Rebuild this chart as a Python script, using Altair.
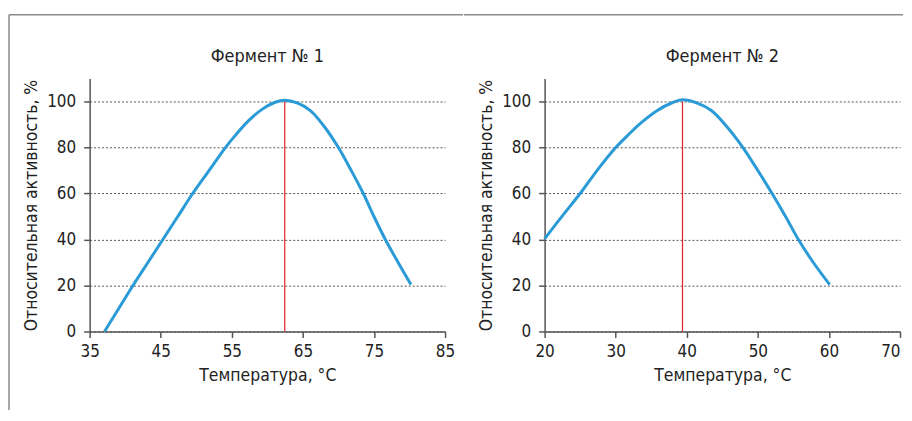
import altair as alt
import pandas as pd

# Enzyme 1 (temperature, relative activity %)
t1 = [37.1, 39.1, 41.1, 43.2, 45.3, 47.4, 49.5, 51.8, 54.1, 55.5, 57.4, 59.2, 61.1, 62.45, 64.2, 66.05, 67.9,
      70.0, 71.8, 73.5, 75.0, 76.6, 78.4, 80.2]
a1 = [0, 10, 20, 30, 40, 50, 60, 70, 80, 85.3, 91.8, 96.5, 99.7, 100.6, 99.4, 96.1, 89.6,
      80, 70, 60, 50, 40, 30, 20.4]
peak1 = 62.45
# Enzyme 2
t2 = [20, 22.5, 25.0, 27.5, 30.0, 31.6, 33.6, 35.8, 38.0, 39.4, 41.4, 43.45, 45.5, 47.9, 50.0, 52.0, 53.9,
      55.7, 57.8, 60.1]
a2 = [40.3, 50.3, 60, 70.5, 80, 85, 90.8, 96, 99.6, 100.8, 99.4, 96.1, 89.6, 80, 70, 60, 50,
      40, 30, 20.4]
peak2 = 39.4

titles = ["Фермент № 1", "Фермент № 2"]
x_domains = [[35, 85], [20, 70]]
y_ticks = [0, 20, 40, 60, 80, 100]

FONT = "DejaVu Sans Condensed"
W, H = 357, 254
FRAME = "#8c8c8c"
TXT = "#222222"


def panel(t, a, peak, title, xdom, first):
    df = pd.DataFrame({"t": t, "a": a})
    xs = alt.Scale(domain=xdom, nice=False, zero=False)
    ys = alt.Scale(domain=[0, 110], nice=False)
    xax_kw = dict(values=list(range(xdom[0], xdom[1] + 1, 10)), title="Температура, °C", grid=False,
                  labelPadding=6, titlePadding=7, labelFlush=False)
    if not first:
        xax_kw["labelAlign"] = alt.expr(f"datum.value == {xdom[1]} ? 'right' : 'center'")
    xax = alt.Axis(**xax_kw)
    yax = alt.Axis(values=y_ticks, title="Относительная активность, %", grid=True, labelPadding=8,
                   titlePadding=6)
    line = alt.Chart(df).mark_line(color="#2a9bd6", strokeWidth=3, interpolate="catmull-rom").encode(
        x=alt.X("t:Q", scale=xs, axis=xax),
        y=alt.Y("a:Q", scale=ys, axis=yax),
    )
    red = alt.Chart(pd.DataFrame({"t": [peak], "y0": [0], "y1": [100]})).mark_rule(
        color="#e8202a", strokeWidth=1.2).encode(
        x=alt.X("t:Q", scale=xs), y=alt.Y("y0:Q", scale=ys), y2="y1:Q")
    one = pd.DataFrame({"k": [0]})
    head = alt.Chart(one).mark_text(text=title, font=FONT, fontSize=18, color=TXT,
                                    baseline="alphabetic", align="center").encode(
        x=alt.value(W / 2), y=alt.value(-17))
    if first:
        top = alt.Chart(one).mark_rule(color=FRAME, strokeWidth=1.5).encode(
            x=alt.value(-81), x2=alt.value(375), y=alt.value(-64))
        left = alt.Chart(one).mark_rule(color=FRAME, strokeWidth=1.5).encode(
            x=alt.value(-81), y=alt.value(-64), y2=alt.value(333))
        layers = [top, left, head, line, red]
    else:
        top = alt.Chart(one).mark_rule(color=FRAME, strokeWidth=1.5).encode(
            x=alt.value(-81), x2=alt.value(360), y=alt.value(-64))
        layers = [top, head, line, red]
    return alt.layer(*layers).properties(width=W, height=H)


chart = alt.hconcat(
    panel(t1, a1, peak1, titles[0], x_domains[0], True),
    panel(t2, a2, peak2, titles[1], x_domains[1], False),
    spacing=-1,
).properties(padding={"left": 0, "top": 5, "right": 0, "bottom": 0}).configure_view(
    stroke=None
).configure_axis(
    domainColor="#555", domainWidth=1.5, tickColor="#555", tickWidth=1.5, tickSize=6,
    labelFont=FONT, labelFontSize=17, labelColor=TXT,
    titleFont=FONT, titleFontSize=17.5, titleFontWeight="normal", titleColor=TXT,
    gridColor="#555", gridDash=[2, 2], gridWidth=1,
)

chart.save("out.html", embed_options={"renderer": "svg", "actions": False})
